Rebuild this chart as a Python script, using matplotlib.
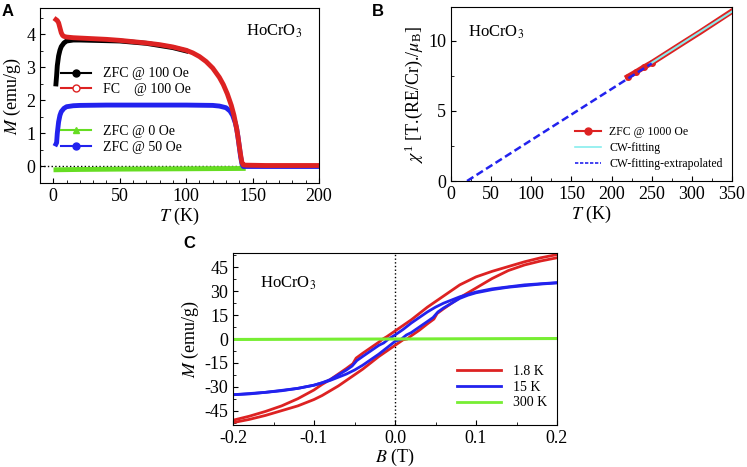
import numpy as np
import matplotlib.pyplot as plt
from matplotlib.lines import Line2D
from matplotlib.ticker import MultipleLocator

plt.rcParams['font.family'] = ['Liberation Serif', 'DejaVu Serif']
plt.rcParams['mathtext.fontset'] = 'stix'
plt.rcParams['axes.unicode_minus'] = False
plt.rcParams['xtick.direction'] = 'in'
plt.rcParams['ytick.direction'] = 'in'

# ---- panel A : M(T) ----
t_fc = [2, 3, 4, 5, 6, 7, 8, 10, 15, 20, 30, 40, 50, 60, 70, 80, 90, 100, 105, 110,
        115, 120, 125, 128, 131, 134, 136, 138, 139, 140, 141, 142, 143, 145, 160, 180, 200]
m_fc = [4.45, 4.42, 4.35, 4.2, 4.05, 3.97, 3.94, 3.92, 3.9, 3.89, 3.87, 3.85, 3.82, 3.78, 3.74,
        3.69, 3.62, 3.52, 3.44, 3.33, 3.18, 2.98, 2.7, 2.48, 2.2, 1.85, 1.55, 1.15, 0.9, 0.62,
        0.35, 0.12, 0.05, 0.04, 0.03, 0.03, 0.03]
t_zfc100 = [2, 2.5, 3, 4, 5, 6, 8, 10, 15, 20, 30, 50, 70, 90, 100]
m_zfc100 = [2.5, 2.75, 3.05, 3.35, 3.52, 3.63, 3.74, 3.8, 3.83, 3.83, 3.82, 3.8, 3.73, 3.6, 3.5]
t_zfc50 = [2, 2.5, 3, 4, 5, 6, 8, 10, 15, 20, 40, 60, 80, 100, 120, 125, 130, 133, 135,
           137, 138, 139, 140, 141, 142, 143, 150, 200]
m_zfc50 = [0.68, 0.72, 1.0, 1.35, 1.55, 1.66, 1.76, 1.81, 1.84, 1.85, 1.86, 1.86, 1.86, 1.86,
           1.85, 1.83, 1.78, 1.68, 1.55, 1.32, 1.15, 0.9, 0.6, 0.3, 0.08, 0.0, 0.0, 0.0]
t_zfc0 = [2, 20, 50, 100, 143]
m_zfc0 = [-0.1, -0.09, -0.08, -0.07, -0.06]

# ---- panel B : inverse susceptibility ----
t_data = [220, 230, 240, 250, 270, 290, 310, 330, 350]
chi_data = [7.42, 7.75, 8.1, 8.42, 9.15, 9.88, 10.6, 11.35, 12.1]
t_fit = [248, 350]
chi_fit = [8.35, 12.08]
t_ext = [20, 250]
chi_ext = [0.0, 8.38]

# ---- panel C : M(B) loops ----
b_18_up = [-0.2, -0.18, -0.16, -0.14, -0.12, -0.1, -0.09, -0.08, -0.07, -0.06, -0.05, -0.04,
           -0.03, -0.02, -0.01, 0.0, 0.01, 0.015, 0.02, 0.03, 0.04, 0.048, 0.052, 0.06, 0.07,
           0.08, 0.09, 0.1, 0.12, 0.14, 0.16, 0.18, 0.2]
m_18_up = [-52.5, -50.5, -48, -45, -42, -38, -35.5, -32.5, -29.5, -26, -22.5, -19, -15, -11,
           -7.5, -4, -0.5, 0, 2, 5.5, 9.5, 12.5, 16, 19, 22.5, 26, 29, 32, 38, 43, 46.5, 49, 51]
b_18_down = [0.2, 0.18, 0.16, 0.14, 0.12, 0.1, 0.09, 0.08, 0.07, 0.06, 0.05, 0.04, 0.03, 0.02,
             0.01, 0.0, -0.01, -0.015, -0.02, -0.03, -0.04, -0.048, -0.052, -0.06, -0.07,
             -0.08, -0.09, -0.1, -0.12, -0.14, -0.16, -0.18, -0.2]
m_18_down = [53, 51, 48.5, 45.5, 42.5, 39, 36.5, 34, 30.5, 27, 23.5, 20, 16, 12, 8.5, 5, 1.5,
             0, -2, -5.5, -9, -12, -15.5, -18.5, -22, -25.5, -28.5, -32, -37.5, -42, -45.5,
             -48.5, -51]
b_15_up = [-0.2, -0.16, -0.12, -0.1, -0.09, -0.08, -0.07, -0.06, -0.05, -0.04, -0.03, -0.02,
           -0.01, 0.0, 0.008, 0.014, 0.02, 0.03, 0.04, 0.047, 0.053, 0.06, 0.07, 0.08, 0.09,
           0.1, 0.12, 0.14, 0.16, 0.18, 0.2]
m_15_up = [-35, -33.5, -31, -29, -27.5, -26, -24, -22, -19.5, -16.5, -13, -9.5, -5.5, -1.5,
           0, 2.5, 4, 7.5, 11, 13.5, 17, 19.5, 22.5, 25.5, 27.5, 29, 31, 32.5, 33.5, 34.5, 35.2]
b_15_down = [0.2, 0.16, 0.12, 0.1, 0.09, 0.08, 0.07, 0.06, 0.05, 0.04, 0.03, 0.02, 0.01, 0.0,
             -0.008, -0.014, -0.02, -0.03, -0.04, -0.047, -0.053, -0.06, -0.07, -0.08, -0.09,
             -0.1, -0.12, -0.14, -0.16, -0.18, -0.2]
m_15_down = [35.4, 34, 31.5, 29.5, 28, 26.5, 24.5, 22.5, 20, 17, 13.5, 10, 6, 2.5, 0, -2.5,
             -4, -7.5, -11, -13.5, -17, -19.5, -22.5, -25.5, -27.5, -29, -31, -32.5, -33.5,
             -34.5, -35]
b_300 = [-0.2, 0.0, 0.2]
m_300 = [-0.3, 0.0, 0.3]

fig = plt.figure(figsize=(7.47, 4.67), dpi=100)
W, H = 747.0, 467.0


def box(l, t, r, b):
    return [l / W, 1 - b / H, (r - l) / W, (b - t) / H]


fs = 13

# A
axA = fig.add_axes(box(40, 8, 319, 183))
axA.axhline(0, color='k', ls=':', lw=1)
axA.plot(t_zfc0, m_zfc0, color='#66dd22', lw=3.5)
axA.plot(t_zfc50, m_zfc50, color='#2222ee', lw=3.5)
axA.plot(t_zfc100, m_zfc100, color='k', lw=3.5)
axA.plot(t_fc, m_fc, color='#dd2222', lw=3.5)
axA.set_xlim(-10, 200)
axA.set_ylim(-0.5, 4.8)
axA.xaxis.set_major_locator(MultipleLocator(50))
axA.xaxis.set_minor_locator(MultipleLocator(10))
axA.yaxis.set_major_locator(MultipleLocator(1))
axA.yaxis.set_minor_locator(MultipleLocator(0.5))
axA.set_xlabel(r'$T$ (K)', fontsize=fs, labelpad=1)
axA.set_ylabel(r'$M$ (emu/g)', fontsize=fs, labelpad=2)
axA.text(0.84, 0.84, r'HoCrO$_3$', transform=axA.transAxes, fontsize=12, ha='center')
hA1 = [Line2D([], [], color='k', marker='o', ms=5),
       Line2D([], [], color='#dd2222', marker='o', mfc='white', ms=5)]
legA1 = axA.legend(hA1, ['ZFC @ 100 Oe', 'FC    @ 100 Oe'], loc='upper left',
                   bbox_to_anchor=(0.05, 0.70), frameon=False, fontsize=10,
                   handlelength=2.2, labelspacing=0.2, borderpad=0)
axA.add_artist(legA1)
hA2 = [Line2D([], [], color='#66dd22', marker='^', ms=5),
       Line2D([], [], color='#2222ee', marker='o', ms=5)]
axA.legend(hA2, ['ZFC @ 0 Oe', 'ZFC @ 50 Oe'], loc='upper left',
           bbox_to_anchor=(0.05, 0.37), frameon=False, fontsize=10,
           handlelength=2.2, labelspacing=0.2, borderpad=0)
axA.tick_params(labelsize=fs)
fig.text(2 / W, 1 - 12 / H, 'A', fontsize=12, fontweight='bold', family='Liberation Sans', va='center')

# B
axB = fig.add_axes(box(451, 7, 732, 181))
axB.plot(t_data, chi_data, color='#dd2222', lw=4)
axB.plot(t_data[:4], chi_data[:4], color='#dd2222', marker='o', ms=4, lw=0)
axB.plot(t_fit, chi_fit, color='#88eeee', lw=1.5)
axB.plot(t_ext, chi_ext, color='#2222ee', lw=1.8, ls=(0, (3, 1.5)))
axB.set_xlim(0, 350)
axB.set_ylim(0, 12.4)
axB.xaxis.set_major_locator(MultipleLocator(50))
axB.xaxis.set_minor_locator(MultipleLocator(25))
axB.yaxis.set_major_locator(MultipleLocator(5))
axB.yaxis.set_minor_locator(MultipleLocator(2.5))
axB.set_xlabel(r'$T$ (K)', fontsize=fs, labelpad=1)
axB.set_ylabel(r'$\chi^{\mathregular{1}}$ [T.(RE/Cr)./$\mu_{\mathregular{B}}$]', fontsize=fs, labelpad=2)
axB.text(0.16, 0.83, r'HoCrO$_3$', transform=axB.transAxes, fontsize=12, ha='center')
hB = [Line2D([], [], color='#dd2222', marker='o', ms=5),
      Line2D([], [], color='#88eeee', lw=1.2),
      Line2D([], [], color='#2222ee', lw=1.2, ls=(0, (2, 1)))]
axB.legend(hB, ['ZFC @ 1000 Oe', 'CW-fitting', 'CW-fitting-extrapolated'],
           loc='upper left', bbox_to_anchor=(0.42, 0.35), frameon=False, fontsize=8.5,
           handlelength=2.2, handletextpad=0.7, labelspacing=0.35, borderpad=0)
axB.tick_params(labelsize=fs)
fig.text(372 / W, 1 - 12 / H, 'B', fontsize=12, fontweight='bold', family='Liberation Sans', va='center')

# C
axC = fig.add_axes(box(233, 253, 557, 425))
axC.axvline(0, color='k', ls=':', lw=1)
axC.plot(b_18_down, m_18_down, color='#dd2222', lw=2)
axC.plot(b_18_up, m_18_up, color='#dd2222', lw=2)
axC.plot(b_15_down, m_15_down, color='#2222ee', lw=2)
axC.plot(b_15_up, m_15_up, color='#2222ee', lw=2)
axC.plot(b_300, m_300, color='#77ee33', lw=2.2)
axC.set_xlim(-0.2, 0.2)
axC.set_ylim(-54, 54)
axC.xaxis.set_major_locator(MultipleLocator(0.1))
axC.xaxis.set_minor_locator(MultipleLocator(0.05))
axC.yaxis.set_major_locator(MultipleLocator(15))
axC.yaxis.set_minor_locator(MultipleLocator(7.5))
axC.set_xlabel(r'$B$ (T)', fontsize=fs, labelpad=0)
axC.set_ylabel(r'$M$ (emu/g)', fontsize=fs, labelpad=2)
axC.text(0.17, 0.8, r'HoCrO$_3$', transform=axC.transAxes, fontsize=12, ha='center')
hC = [Line2D([], [], color='#dd2222', lw=2),
      Line2D([], [], color='#2222ee', lw=2),
      Line2D([], [], color='#77ee33', lw=2)]
axC.legend(hC, ['1.8 K', '15 K', '300 K'], loc='upper left', bbox_to_anchor=(0.67, 0.39),
           frameon=False, fontsize=10, handlelength=3.2, labelspacing=0.2, borderpad=0)
axC.tick_params(labelsize=fs)
fig.text(183 / W, 1 - 243 / H, 'C', fontsize=12, fontweight='bold', family='Liberation Sans', va='center')

fig.savefig('out.png', dpi=100)
